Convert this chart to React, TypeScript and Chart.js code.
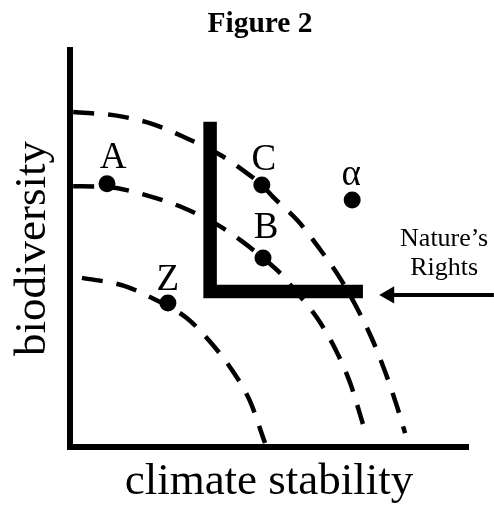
import React, { useEffect, useRef } from "react";
import { Chart, registerables } from "chart.js";

Chart.register(...registerables);

// ---- data (x: climate stability 0-100, y: biodiversity 0-100) ----
const outerCurveX = [0.8, 12.1, 20.6, 28.6, 37.7, 44.0, 48.2, 51.0, 57.3, 62.6, 67.8, 72.1, 75.9, 79.2, 82.2, 84.2];
const outerCurveY = [84.4, 83.4, 81.4, 78.1, 73.6, 69.3, 66.0, 63.0, 56.9, 50.1, 42.6, 35.0, 27.2, 18.9, 10.1, 3.5];

const middleCurveX = [0.8, 9.3, 19.9, 28.6, 37.2, 43.5, 48.5, 52.8, 55.8, 62.1, 66.8, 70.4, 73.6];
const middleCurveY = [65.7, 65.5, 63.2, 60.2, 55.9, 51.6, 47.6, 43.8, 40.3, 32.5, 24.4, 16.1, 5.8];

const innerCurveX = [3.0, 13.6, 21.1, 24.6, 29.7, 35.2, 40.7, 45.2, 49.0];
const innerCurveY = [42.6, 40.6, 37.3, 35.5, 32.2, 26.5, 19.4, 11.6, 1.0];

const pointLabels = ["A", "B", "C", "Z", "α"];
const pointX = [9.3, 48.5, 48.2, 24.6, 70.9];
const pointY = [66.3, 47.6, 66.0, 36.3, 62.2];

const boundaryX = [35.2, 35.2, 73.6];
const boundaryY = [81.9, 39.2, 39.2];

const arrowX = [106.5, 80.2];
const arrowY = [38.3, 38.3];

const arrowLabelLines = ["Nature’s", "Rights"];
const arrowLabelX = 94.0;
const arrowLabelY = [50.6, 43.3];

const chartTitle = "Figure 2";
const xAxisTitle = "climate stability";
const yAxisTitle = "biodiversity";

// label offsets in pixels relative to each point (style)
const labelDx = [6, 3, 2, 0, -1];
const labelDy = [-16, -20, -15, -13, -15];

const SERIF = "'Liberation Serif', 'Times New Roman', serif";

const toXY = (xs: number[], ys: number[]) => xs.map((x, i) => ({ x, y: ys[i] }));

const annotationPlugin = {
  id: "annotations",
  afterDraw(chart: any) {
    const { ctx, scales } = chart;
    const xs = scales.x;
    const ys = scales.y;
    ctx.save();
    ctx.fillStyle = "#000";
    ctx.textAlign = "center";
    ctx.textBaseline = "alphabetic";
    ctx.font = `37px ${SERIF}`;
    pointLabels.forEach((t, i) => {
      ctx.fillText(t, xs.getPixelForValue(pointX[i]) + labelDx[i], ys.getPixelForValue(pointY[i]) + labelDy[i]);
    });
    ctx.font = `26px ${SERIF}`;
    arrowLabelLines.forEach((t, i) => {
      ctx.fillText(t, xs.getPixelForValue(arrowLabelX), ys.getPixelForValue(arrowLabelY[i]));
    });
    ctx.font = `bold 29.5px ${SERIF}`;
    ctx.fillText(chartTitle, 260, 32);
    ctx.restore();
  },
};

export default function App() {
  const ref = useRef<HTMLCanvasElement | null>(null);

  useEffect(() => {
    if (!ref.current) return;
    const curveStyle = {
      showLine: true,
      borderColor: "#000",
      borderWidth: 4.5,
      borderDash: [21, 14],
      pointRadius: 0,
      cubicInterpolationMode: "monotone" as const,
      fill: false,
      clip: false as any,
    };
    const chart = new Chart(ref.current, {
      type: "scatter",
      data: {
        datasets: [
          {
            label: "points",
            data: toXY(pointX, pointY),
            showLine: false,
            pointRadius: 8.5,
            pointBackgroundColor: "#000",
            pointBorderColor: "#000",
            pointBorderWidth: 0,
            clip: false as any,
          },
          {
            label: "Nature's Rights",
            data: toXY(boundaryX, boundaryY),
            showLine: true,
            borderColor: "#000",
            borderWidth: 13.5,
            borderCapStyle: "butt",
            borderJoinStyle: "miter",
            pointRadius: 0,
            tension: 0,
            clip: false as any,
          },
          {
            label: "arrow",
            data: toXY(arrowX, arrowY),
            showLine: true,
            borderColor: "#000",
            borderWidth: 4,
            pointRadius: [0, 10],
            pointStyle: "triangle",
            pointRotation: -90,
            pointBackgroundColor: "#000",
            pointBorderColor: "#000",
            pointBorderWidth: 0,
            clip: false as any,
          },
          { label: "outer", data: toXY(outerCurveX, outerCurveY), ...curveStyle },
          { label: "middle", data: toXY(middleCurveX, middleCurveY), ...curveStyle },
          { label: "inner", data: toXY(innerCurveX, innerCurveY), ...curveStyle },
        ],
      },
      options: {
        responsive: false,
        animation: false,
        devicePixelRatio: 1,
        layout: { padding: { top: 50, right: 26, left: 0, bottom: 0 } },
        plugins: {
          legend: { display: false },
          tooltip: { enabled: false },
          title: { display: false },
        },
        scales: {
          x: {
            type: "linear",
            min: 0,
            max: 100,
            grid: { display: false },
            ticks: { display: false },
            border: { display: true, color: "#000", width: 6 },
            title: {
              display: true,
              text: xAxisTitle,
              color: "#000",
              font: { family: SERIF, size: 45, lineHeight: 1 },
              padding: { top: 0, bottom: 1.7 },
            },
            afterFit: (s: any) => {
              s.height = 59;
            },
          },
          y: {
            type: "linear",
            min: 0,
            max: 100,
            grid: { display: false },
            ticks: { display: false },
            border: { display: true, color: "#000", width: 6 },
            title: {
              display: true,
              text: yAxisTitle,
              color: "#000",
              font: { family: SERIF, size: 45, lineHeight: 1 },
              padding: { top: 10.5, bottom: 0 },
            },
            afterFit: (s: any) => {
              s.width = 70;
            },
          },
        },
      },
      plugins: [annotationPlugin],
    } as any);
    return () => chart.destroy();
  }, []);

  return (
    <div style={{ position: "fixed", left: 0, top: 0, width: 494, height: 506, background: "#fff" }}>
      <canvas ref={ref} width={494} height={506} style={{ display: "block" }} />
    </div>
  );
}
